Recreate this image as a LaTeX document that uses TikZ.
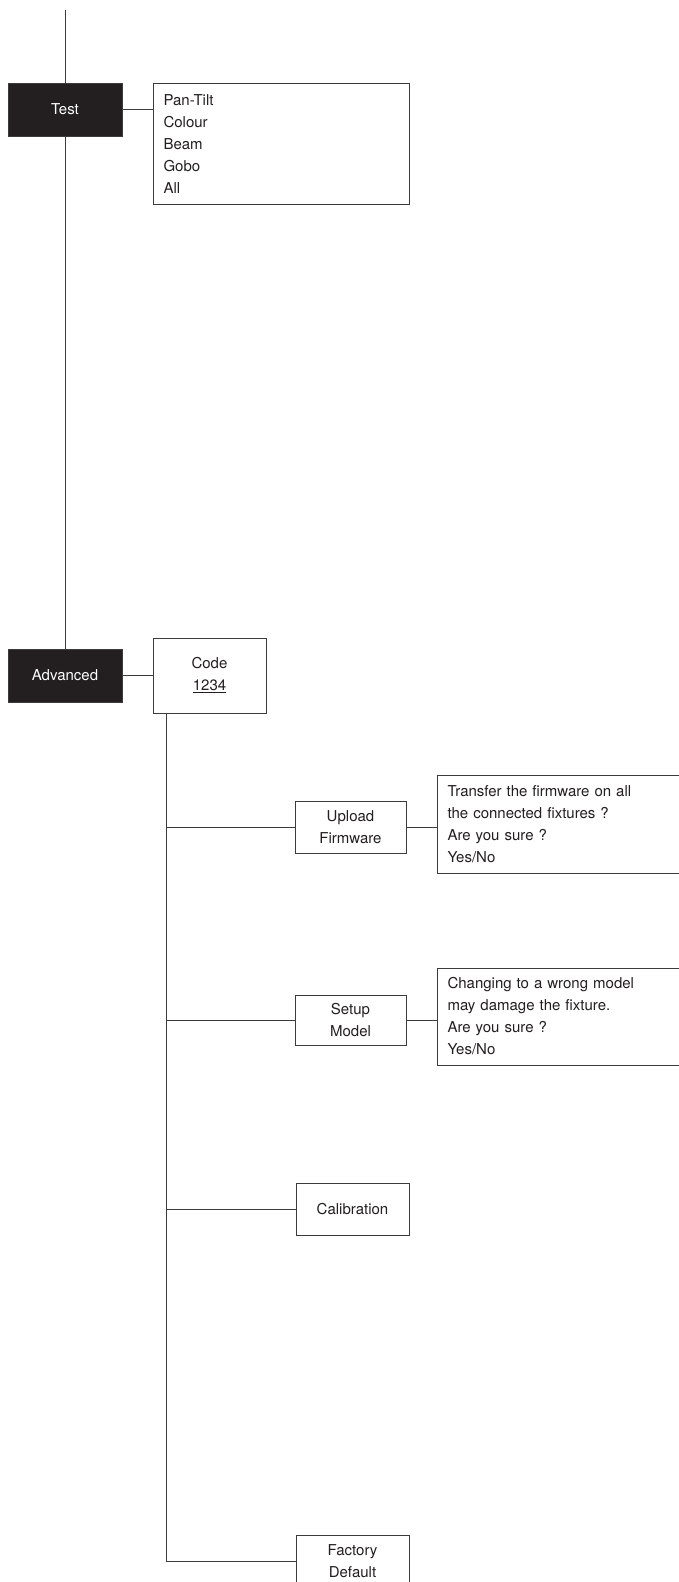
\documentclass[tikz,border=0pt]{standalone}
\usepackage{fontspec}
\setmainfont{TeX Gyre Heros}
\definecolor{boxblack}{HTML}{231F20}
\definecolor{linec}{HTML}{3C3C3C}
\definecolor{txt}{HTML}{231F20}
\begin{document}
\begin{tikzpicture}[x=1pt,y=-1pt,
  ln/.style={line width=1pt, draw=linec},
  darkbox/.style={fill=boxblack, draw=linec, line width=1pt, text=white, minimum width=114pt, minimum height=53pt, inner sep=0pt, font=\fontsize{15}{22}\selectfont},
  wbox/.style={draw=linec, line width=1pt, fill=white, text=txt, align=center, inner sep=0pt, font=\fontsize{15}{22}\selectfont},
  msgbox/.style={wbox, align=left, anchor=west, minimum width=250pt, text width=230pt}
]
\useasboundingbox (0,0) rectangle (678,1582);
\fill[white] (0,0) rectangle (678,1582);

\coordinate (top) at (65,10);
\node[darkbox] (test) at (65,109.5) {Test};
\node[darkbox] (adv) at (65,675.5) {Advanced};
\draw[ln] (top) -- (test.north);
\draw[ln] (test.south) -- (adv.north);

\node[wbox, align=left, anchor=north west, minimum width=256pt, minimum height=121pt, text width=236pt] (list) at (153,83) {Pan-Tilt\\Colour\\Beam\\Gobo\\All};
\draw[ln] (test.east) -- (test.east -| list.west);

\node[wbox, minimum width=113pt, minimum height=75pt] (code) at (209.5,675.5) {Code\\\underline{1234}};
\draw[ln] (adv.east) -- (code.west);

\node[wbox, minimum width=111pt, minimum height=52pt] (upload) at (350.5,827) {Upload\\Firmware};
\node[msgbox, minimum height=98pt] (uptext) at (437,824) {Transfer the firmware on all\\the connected fixtures ?\\Are you sure ?\\Yes/No};
\draw[ln] (upload.east) -- (upload.east -| uptext.west);

\node[wbox, minimum width=111pt, minimum height=50pt] (setup) at (350.5,1020) {Setup\\Model};
\node[msgbox, minimum height=97pt] (setuptext) at (437,1016.5) {Changing to a wrong model\\may damage the fixture.\\Are you sure ?\\Yes/No};
\draw[ln] (setup.east) -- (setup.east -| setuptext.west);

\node[wbox, minimum width=113pt, minimum height=52pt] (calib) at (352.5,1209) {Calibration};
\node[wbox, minimum width=113pt, minimum height=52pt] (factory) at (352.5,1561) {Factory\\Default};

\coordinate (trunk) at ([xshift=14pt]code.south west);
\draw[ln] (trunk) |- (factory.west);
\draw[ln] (upload.west) -- (upload.west -| trunk);
\draw[ln] (setup.west) -- (setup.west -| trunk);
\draw[ln] (calib.west) -- (calib.west -| trunk);
\end{tikzpicture}
\end{document}
